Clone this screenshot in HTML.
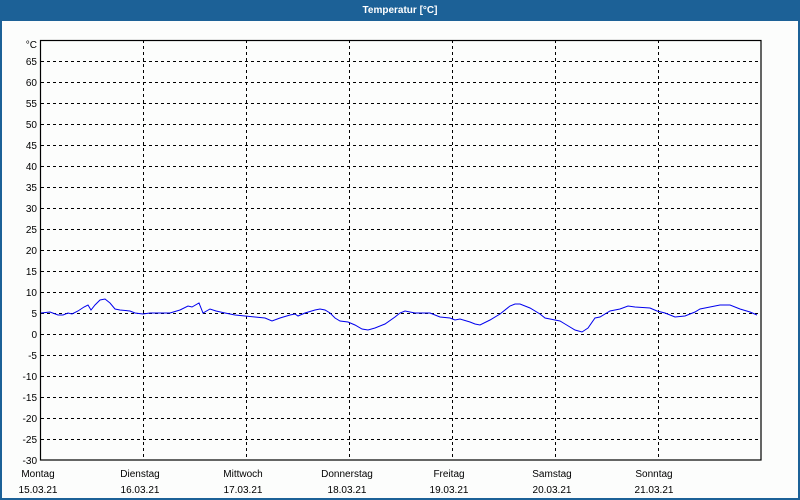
<!DOCTYPE html><html><head><style>body{margin:0}svg{display:block}text{font-family:"Liberation Sans",sans-serif;font-size:10px;fill:#000}</style></head><body>
<svg width="800" height="500" xmlns="http://www.w3.org/2000/svg">
<rect x="0" y="0" width="800" height="500" fill="#1c6197"/>
<rect x="2" y="21" width="796" height="477" fill="#fcfdfc"/>
<text x="400" y="13" text-anchor="middle" style="font-weight:bold;fill:#fff;font-size:10px">Temperatur [°C]</text>
<g stroke="#000" stroke-dasharray="3,3" stroke-width="1">
<path d="M41 61.5H761M41 82.5H761M41 103.5H761M41 124.5H761M41 145.5H761M41 166.5H761M41 187.5H761M41 208.5H761M41 229.5H761M41 250.5H761M41 271.5H761M41 292.5H761M41 313.5H761M41 334.5H761M41 355.5H761M41 376.5H761M41 397.5H761M41 418.5H761M41 439.5H761"/>
<path d="M143.5 40V460M246.5 40V460M349.5 40V460M452.5 40V460M555.5 40V460M658.5 40V460"/>
</g>
<rect x="40.5" y="40.5" width="720.5" height="419.5" fill="none" stroke="#000" stroke-width="1.2"/>
<g text-anchor="end">
<text x="37" y="48">°C</text>
<text x="37" y="65">65</text><text x="37" y="86">60</text><text x="37" y="107">55</text><text x="37" y="128">50</text><text x="37" y="149">45</text><text x="37" y="170">40</text><text x="37" y="191">35</text><text x="37" y="212">30</text><text x="37" y="233">25</text><text x="37" y="254">20</text><text x="37" y="275">15</text><text x="37" y="296">10</text><text x="37" y="317">5</text><text x="37" y="338">0</text><text x="37" y="359">-5</text><text x="37" y="380">-10</text><text x="37" y="401">-15</text><text x="37" y="422">-20</text><text x="37" y="443">-25</text><text x="37" y="464">-30</text>
</g>
<g text-anchor="middle">
<text x="38" y="477">Montag</text><text x="38" y="493">15.03.21</text>
<text x="140" y="477">Dienstag</text><text x="140" y="493">16.03.21</text>
<text x="243" y="477">Mittwoch</text><text x="243" y="493">17.03.21</text>
<text x="347" y="477">Donnerstag</text><text x="347" y="493">18.03.21</text>
<text x="449" y="477">Freitag</text><text x="449" y="493">19.03.21</text>
<text x="552" y="477">Samstag</text><text x="552" y="493">20.03.21</text>
<text x="654" y="477">Sonntag</text><text x="654" y="493">21.03.21</text>
</g>
<polyline fill="none" stroke="#0000ee" stroke-width="1" points="41,313 50,312 58,315 63,315 68,313 72,314 78,311 84,307 88,305 91,310 95,305 100,300 105,299 110,303 115,309 120,310 130,311 135,313 143,314 150,313 160,313 170,313 180,310 188,306 192,307 199,303 203,313 210,309 216,311 225,313 235,315 245,316 255,317 265,318 272,321 280,318 290,315 295,314 298,316 305,313 315,310 320,309 325,310 330,313 335,318 340,321 348,322 355,325 362,329 368,330 375,328 385,324 395,317 400,313 405,311 415,313 430,313 440,317 450,318 455,320 460,319 470,322 475,324 480,325 490,320 500,314 510,306 515,304 520,304 530,308 540,314 545,318 555,320 560,321 565,324 575,330 582,332 588,328 595,318 600,317 610,311 620,309 628,306 635,307 650,308 657,311 665,313 675,317 685,316 695,312 700,309 710,307 720,305 730,305 740,309 750,312 757,315"/>
</svg>
</body></html>
